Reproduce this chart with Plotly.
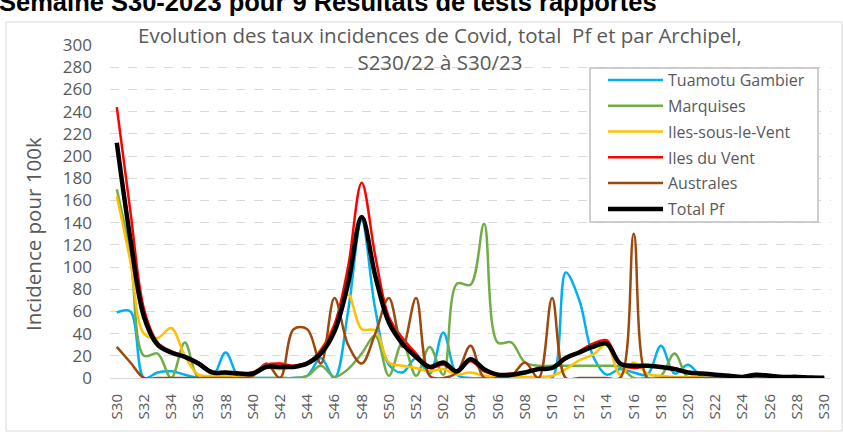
import plotly.graph_objects as go

weeks = ["S30","S31","S32","S33","S34","S35","S36","S37","S38","S39","S40","S41","S42","S43","S44",
         "S45","S46","S47","S48","S49","S50","S51","S52","S01","S02","S03","S04","S05","S06","S07",
         "S08","S09","S10","S11","S12","S13","S14","S15","S16","S17","S18","S19","S20","S21","S22",
         "S23","S24","S25","S26","S27","S28","S29","S30"]

tuamotu = [59,60,0,5,6,3,0,0,23,0,0,0,0,0,2,18,0,60,142,62,12,5,18,4,41,3,0,0,0,0,0,0,0,
           95,70,20,3,8,5,3,29,4,12,1,0,0,0,0,0,0,0,0,0]
marquises = [170,110,20,22,0,32,0,0,0,0,0,0,0,0,2,11,1,8,22,38,2,32,2,28,3,85,84,139,32,32,14,
             11,11,11,11,11,11,10,0,0,2,22,0,0,0,0,0,0,0,0,0,0,0]
isv = [164,105,40,36,45,20,3,2,2,2,4,9,8,10,13,26,48,75,44,43,14,11,9,6,8,3,5,2,1,1,1,1,2,
       8,16,21,30,3,14,4,2,1,1,0.5,0,0,0,0,0,0,0,0,0]
idv = [244,150,62,32,24,20,14,6,5,4,5,12,13,11,14,25,48,100,176,110,55,36,22,9,12,5,15,6,3,4,5,
       9,9,17,24,31,34,13,9,11,10,9,5,4,3,2,1,3,2,1,1,0.5,0]
australes = [28,14,0,0,0,0,0,0,0,0,2,13,0,44,44,13,72,30,13,40,72,28,72,2,0,5,29,0,0,2,14,0,72,
             0,0,0,0,0,130,0,0,0,0,0,0,0,0,0,0,0,0,0,0]
total = [212,125,55,30,23,19,13,5,5,4,4,10,10,10,13,22,42,85,145,92,50,31,19,10,14,6,17,8,3,3,5,
         8,9,18,23,28,31,13,11,11,10,8,5,4,3,2,1,3,2,1,1,0.5,0.3]

yticks = list(range(0, 301, 20))

series = [
    ("Tuamotu Gambier", tuamotu, "#00B0F0", 2.5),
    ("Marquises", marquises, "#70AD47", 2.5),
    ("Iles-sous-le-Vent", isv, "#FFC000", 2.5),
    ("Iles du Vent", idv, "#FF0000", 2.5),
    ("Australes", australes, "#9E480E", 2.5),
    ("Total Pf", total, "#000000", 4.5),
]

# plot area in pixels
L, R, T, B = 110, 831, 45, 378
PW, PH = R - L, B - T
def px(x):
    return (x - L) / PW
def py(y):
    return (B - y) / PH

xs = list(range(len(weeks)))
fig = go.Figure()
for name, vals, col, w in series:
    fig.add_trace(go.Scatter(x=xs, y=vals, mode="lines", name=name, legendgroup=name,
                             line=dict(color=col, width=w, shape="spline", smoothing=1.0)))

gray = "#595959"
fig.update_layout(
    width=843, height=432,
    margin=dict(l=L, r=843 - R, t=T, b=432 - B),
    paper_bgcolor="white", plot_bgcolor="white",
    font=dict(family="Open Sans, sans-serif", color=gray),
    showlegend=True,
    legend=dict(x=px(603), y=py(63), xanchor="left", yanchor="top",
                borderwidth=0, bgcolor="rgba(255,255,255,0)", itemwidth=55,
                font=dict(size=16, color=gray), tracegroupgap=2),
    xaxis=dict(range=[-0.5, 52.5], tickmode="array", tickvals=xs[::2], ticktext=weeks[::2],
               tickangle=-90, tickfont=dict(size=15, color=gray), showgrid=False,
               zeroline=False, showline=False, ticks="", ticklabelstandoff=12, automargin=False),
    yaxis=dict(range=[0, 300], tickmode="array", tickvals=yticks,
               tickfont=dict(size=17, color=gray), showgrid=True, gridcolor="#d9d9d9",
               griddash="dash", gridwidth=1, zeroline=True, zerolinecolor="#d9d9d9",
               zerolinewidth=1, ticks="", ticklabelstandoff=17, automargin=False),
    annotations=[
        dict(text="Evolution des taux incidences de Covid, total  Pf et par Archipel,<br>S230/22 à S30/23",
             xref="paper", yref="paper", x=px(440), y=py(48), xanchor="center", yanchor="middle",
             showarrow=False, font=dict(size=20.5, color=gray), align="center"),
        dict(text="Incidence pour 100k", xref="paper", yref="paper", x=px(33), y=py(234),
             xanchor="center", yanchor="middle", textangle=-90, showarrow=False,
             font=dict(size=20.5, color=gray)),
        dict(text="<b>Semaine S30-2023 pour 9 Résultats de tests rapportés</b>", xref="paper", yref="paper",
             x=px(-3), y=py(2), xanchor="left", yanchor="middle", showarrow=False,
             font=dict(size=25.5, color="black", family="Liberation Sans")),
    ],
    shapes=[
        dict(type="rect", xref="paper", yref="paper", x0=px(6), x1=px(842),
             y0=py(431), y1=py(22), line=dict(color="#d9d9d9", width=1)),
        dict(type="rect", xref="paper", yref="paper", x0=px(590), x1=px(818),
             y0=py(222), y1=py(68), line=dict(color="#bfbfbf", width=1.5),
             fillcolor="white", layer="above"),
    ],
)

fig.write_html("out.html", config={"displayModeBar": False},
               post_script="document.body.style.margin='0';")
